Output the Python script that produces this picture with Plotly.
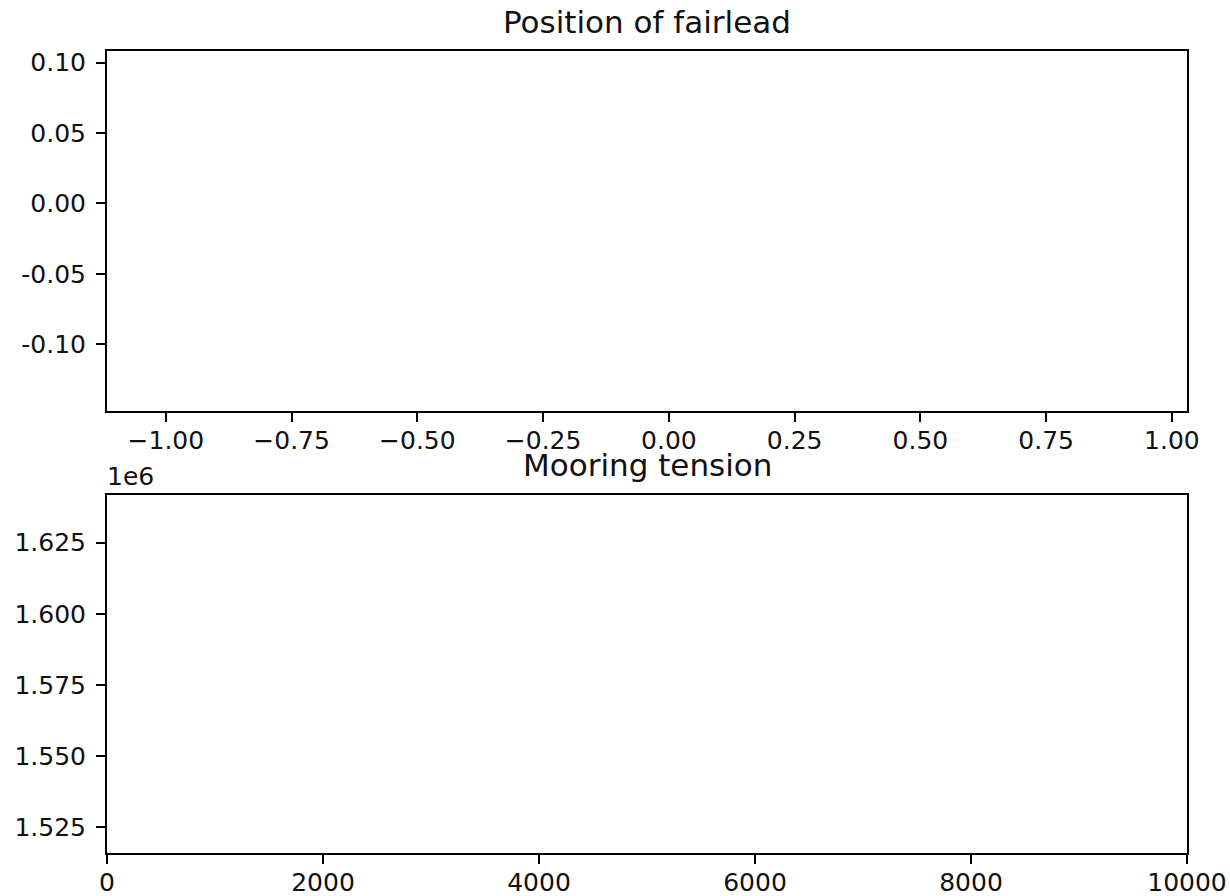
import plotly.graph_objects as go
from plotly.subplots import make_subplots

# Data (the reference frame shows empty axes: no samples drawn yet)
fairlead_x = []
fairlead_z = []
time_s = []
tension_n = []

# Tick labels
pos_x_ticks = [-1.0, -0.75, -0.5, -0.25, 0.0, 0.25, 0.5, 0.75, 1.0]
pos_x_text = ["−1.00", "−0.75", "−0.50", "−0.25", "0.00", "0.25", "0.50", "0.75", "1.00"]
pos_y_ticks = [-0.10, -0.05, 0.0, 0.05, 0.10]
pos_y_text = ["-0.10", "-0.05", "0.00", "0.05", "0.10"]
ten_x_ticks = [0, 2000, 4000, 6000, 8000, 10000]
ten_x_text = ["0", "2000", "4000", "6000", "8000", "10000"]
ten_y_ticks = [1.525e6, 1.55e6, 1.575e6, 1.6e6, 1.625e6]
ten_y_text = ["1.525", "1.550", "1.575", "1.600", "1.625"]

FONT = "DejaVu Sans"
TICK_SIZE = 25
TITLE_SIZE = 31

fig = make_subplots(rows=2, cols=1, vertical_spacing=0.1)

fig.add_trace(go.Scatter(x=fairlead_x, y=fairlead_z, mode="markers",
                         marker=dict(color="#1f77b4"), showlegend=False), row=1, col=1)
fig.add_trace(go.Scatter(x=time_s, y=tension_n, mode="lines",
                         line=dict(color="#1f77b4"), showlegend=False), row=2, col=1)

axis_common = dict(
    showline=True, linecolor="black", linewidth=2, mirror=True,
    ticks="outside", ticklen=9, tickwidth=2, tickcolor="black",
    showgrid=False, zeroline=False, automargin=False,
    tickfont=dict(family=FONT, size=TICK_SIZE, color="#111111"),
    tickmode="array",
)

fig.update_layout(
    template="none",
    width=1230, height=896,
    margin=dict(l=107, r=43, t=51, b=43, autoexpand=False),
    paper_bgcolor="white", plot_bgcolor="white",
    font=dict(family=FONT, color="#111111"),
    xaxis=dict(domain=[0, 1], range=[-1.117, 1.030], tickvals=pos_x_ticks,
               ticktext=pos_x_text, ticklabelstandoff=-3, **axis_common),
    yaxis=dict(domain=[0.5515, 1], range=[-0.1471, 0.1082], tickvals=pos_y_ticks,
               ticktext=pos_y_text, ticklabelstandoff=5, **axis_common),
    xaxis2=dict(domain=[0, 1], range=[0, 10000], tickvals=ten_x_ticks,
                ticktext=ten_x_text, ticklabelstandoff=-3, **axis_common),
    yaxis2=dict(domain=[0, 0.4464], range=[1.5158e6, 1.6418e6], tickvals=ten_y_ticks,
                ticktext=ten_y_text, ticklabelstandoff=5, **axis_common),
    annotations=[
        dict(text="Position of fairlead", xref="paper", yref="paper", x=0.5, y=1.0212,
             xanchor="center", yanchor="bottom", yshift=-8, showarrow=False,
             font=dict(family=FONT, size=TITLE_SIZE, color="#111111")),
        dict(text="Mooring tension", xref="paper", yref="paper", x=0.5, y=0.4692,
             xanchor="center", yanchor="bottom", yshift=-8, showarrow=False,
             font=dict(family=FONT, size=TITLE_SIZE, color="#111111")),
        dict(text="1e6", xref="paper", yref="paper", x=0, y=0.4464,
             xanchor="left", yanchor="bottom", xshift=-2, yshift=2, showarrow=False,
             font=dict(family=FONT, size=TICK_SIZE, color="#111111")),
    ],
)

fig.write_html(
    "out.html",
    config={"displayModeBar": False},
    post_script="document.body.style.margin='0';document.body.style.overflow='hidden';",
)
